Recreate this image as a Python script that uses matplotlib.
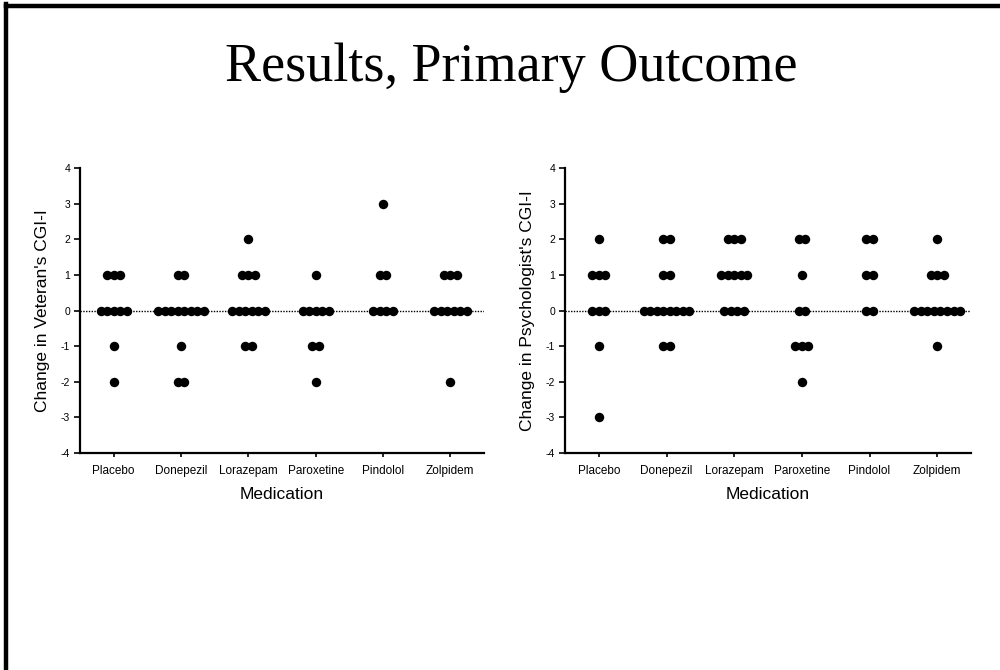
import numpy as np
import matplotlib.pyplot as plt
from matplotlib.lines import Line2D

medications = ['Placebo', 'Donepezil', 'Lorazepam', 'Paroxetine', 'Pindolol', 'Zolpidem']

# change scores per medication, one entry per subject
veteran_cgi = {
    'Placebo':    [1, 1, 1, 0, 0, 0, 0, 0, -1, -2],
    'Donepezil':  [1, 1, 0, 0, 0, 0, 0, 0, 0, 0, -1, -2, -2],
    'Lorazepam':  [2, 1, 1, 1, 0, 0, 0, 0, 0, 0, -1, -1],
    'Paroxetine': [1, 0, 0, 0, 0, 0, -1, -1, -2],
    'Pindolol':   [3, 1, 1, 0, 0, 0, 0],
    'Zolpidem':   [1, 1, 1, 0, 0, 0, 0, 0, 0, -2],
}
psychologist_cgi = {
    'Placebo':    [2, 1, 1, 1, 0, 0, 0, -1, -3],
    'Donepezil':  [2, 2, 1, 1, 0, 0, 0, 0, 0, 0, 0, 0, -1, -1],
    'Lorazepam':  [2, 2, 2, 1, 1, 1, 1, 1, 0, 0, 0, 0],
    'Paroxetine': [2, 2, 1, 0, 0, -1, -1, -1, -2],
    'Pindolol':   [2, 2, 1, 1, 0, 0],
    'Zolpidem':   [2, 1, 1, 1, 0, 0, 0, 0, 0, 0, 0, 0, -1],
}

y_ticks = [-4, -3, -2, -1, 0, 1, 2, 3, 4]
dot_step = 0.097   # horizontal gap between stacked dots, in category units


def scatter_column(ax, pos, values):
    # lay out tied values side by side, centred on the column
    vals = np.array(values)
    for v in np.unique(vals):
        n = np.sum(vals == v)
        offs = (np.arange(n) - (n - 1) / 2) * dot_step
        ax.plot(pos + offs, np.full(n, v), 'o', color='black', markersize=6.8,
                markeredgewidth=0, zorder=3)


def draw_panel(ax, data, ylabel):
    ax.axhline(0, color='black', linewidth=1.0, linestyle=(0, (1, 1)), zorder=1)
    for i, med in enumerate(medications):
        scatter_column(ax, i, data[med])
    ax.set_xlim(-0.5, len(medications) - 0.5)
    ax.set_ylim(-4, 4)
    ax.set_yticks(y_ticks)
    ax.set_yticklabels([str(t) for t in y_ticks])
    ax.set_xticks(range(len(medications)))
    ax.set_xticklabels(medications)
    for side in ('top', 'right'):
        ax.spines[side].set_visible(False)
    for side in ('left', 'bottom'):
        ax.spines[side].set_linewidth(1.6)
    ax.tick_params(axis='y', length=4, width=1.2, labelsize=7.5, pad=3)
    ax.tick_params(axis='x', length=3, width=1.2, labelsize=8.5, pad=6)
    ax.set_ylabel(ylabel, fontsize=12.5, labelpad=8)
    ax.set_xlabel('Medication', fontsize=12.5, labelpad=7)


plt.rcParams['font.family'] = ['Liberation Sans', 'DejaVu Sans']

fig = plt.figure(figsize=(10, 6.7), dpi=100)
fig.patch.set_facecolor('white')

ax1 = fig.add_axes([0.080, 0.324, 0.404, 0.425])
ax2 = fig.add_axes([0.565, 0.324, 0.406, 0.425])
draw_panel(ax1, veteran_cgi, "Change in Veteran's CGI-I")
draw_panel(ax2, psychologist_cgi, "Change in Psychologist's CGI-I")

fig.text(0.511, 0.899, 'Results, Primary Outcome', ha='center', va='center',
         fontsize=39, family='Liberation Serif')

# slide frame along the top and left edges
fig.add_artist(Line2D([0.006, 0.006], [0, 0.994], transform=fig.transFigure,
                      color='black', linewidth=3.2))
fig.add_artist(Line2D([0.006, 1.0], [0.991, 0.991], transform=fig.transFigure,
                      color='black', linewidth=3.2))

fig.savefig('out.png', dpi=100, facecolor='white')
